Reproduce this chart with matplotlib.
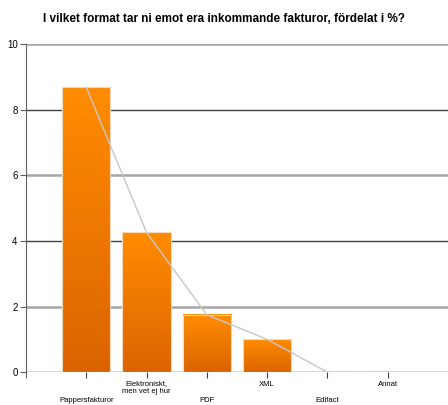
import matplotlib.pyplot as plt
import numpy as np
from matplotlib.colors import LinearSegmentedColormap

plt.rcParams["font.family"] = ["Liberation Sans", "DejaVu Sans"]

# Data
categories = ["Pappersfakturor", "Elektroniskt,\nmen vet ej hur", "PDF", "XML", "Edifact", "Annat"]
values = [8.68, 4.26, 1.75, 1.0, 0.0, 0.0]
y_ticks = [0, 2, 4, 6, 8, 10]

fig = plt.figure(figsize=(4.48, 4.05), dpi=100)
ax = fig.add_axes([0.058, 0.081, 0.942, 0.81])

x = np.arange(1, len(categories) + 1)
width = 0.8

# Gridlines: alternate light/dark
for t in y_ticks:
    if t % 4 == 0:
        ax.axhline(t, color="#404040", lw=1.0, zorder=1)
    else:
        ax.axhline(t, color="#a6a6a6", lw=1.8, zorder=1)

# Gradient bars
grad = LinearSegmentedColormap.from_list("orng", ["#dc6400", "#ff8c00"])
bars = ax.bar(x, values, width=width, color="none", edgecolor="#f4d8bc", lw=0.8, zorder=3)
for b in bars:
    h = b.get_height()
    if h <= 0:
        continue
    x0 = b.get_x()
    ax.imshow(np.linspace(0, 1, 100).reshape(-1, 1), cmap=grad, origin="lower",
              extent=[x0, x0 + b.get_width(), 0, h], aspect="auto", zorder=2)

# Trend line over bar tops
ax.plot(x, values, color="#c8c8c8", lw=1.0, zorder=4)

ax.set_xlim(0, 7)
ax.set_ylim(0, 10)

for s in ["top", "right", "bottom"]:
    ax.spines[s].set_visible(False)
ax.spines["left"].set_color("#606060")
ax.spines["left"].set_bounds(-0.1, 10)

ax.set_yticks(y_ticks)
ax.set_yticklabels([str(t) for t in y_ticks])
ax.tick_params(axis="y", length=4, color="#606060", labelsize=7, pad=2)

ax.set_xticks(x)
ax.set_xticklabels(categories, fontsize=5.5, linespacing=1.0)
ax.set_xticks([0], minor=True)
ax.tick_params(axis="x", which="both", length=4, color="#404040", pad=2)
for i, tick in enumerate(ax.xaxis.get_major_ticks()):
    if i % 2 == 0:
        tick.set_pad(14)

ax.set_title("I vilket format tar ni emot era inkommande fakturor, fördelat i %?",
             fontsize=8.5, fontweight="bold", x=0.469, pad=16)

fig.savefig("out.png", dpi=100)
